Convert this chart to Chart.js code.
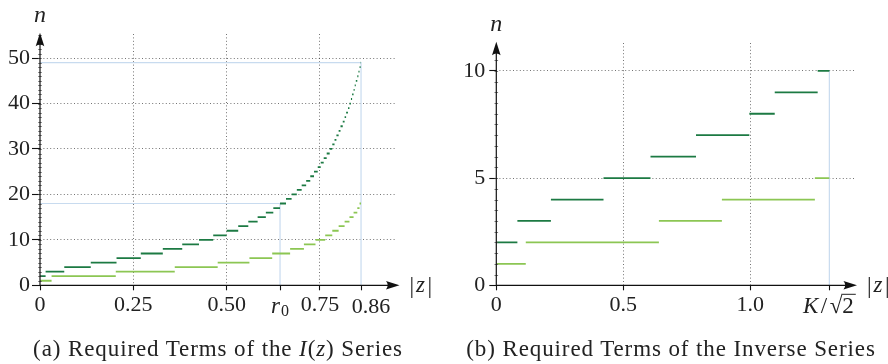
<!DOCTYPE html>
<html><head><meta charset="utf-8">
<script src="https://cdn.jsdelivr.net/npm/chart.js@4.4.1/dist/chart.umd.min.js"></script>
<style>
body{margin:0;background:#fff;width:888px;height:364px;overflow:hidden;position:relative;font-family:'Liberation Serif',serif;}
canvas{position:absolute;top:0;}
#ca{left:0} #cb{left:444px}
.cap{position:absolute;top:336px;line-height:26px;font-size:23px;letter-spacing:0.9px;color:#222;white-space:nowrap;transform:translateX(-50%);}
</style></head><body>
<canvas id="ca" width="444" height="364"></canvas>
<canvas id="cb" width="444" height="364"></canvas>
<div class="cap" style="left:218px">(a) Required Terms of the <i>I</i>(<i>z</i>) Series</div>
<div class="cap" style="left:671px">(b) Required Terms of the Inverse Series</div>
<script>
// ---------- (a) Required terms of the I(z) series ----------
const aDarkN = [2,3,4,5,6,7,8,9,10,11,12,13,14,15,16,17,18,19,20,21,22,23,24,25,26,27,28,29,30,31,32,33,34,35,36,37,38,39,40,41,42,43,44,45,46,47,48,49];
const aDarkFrom = [0,0.015,0.065,0.136,0.205,0.270,0.329,0.381,0.426,0.464,0.500,0.531,0.558,0.583,0.605,0.625,0.643,0.659,0.674,0.688,0.701,0.713,0.724,0.734,0.744,0.752,0.760,0.768,0.776,0.783,0.789,0.794,0.800,0.805,0.811,0.816,0.820,0.825,0.829,0.833,0.836,0.840,0.843,0.846,0.850,0.853,0.856,0.859];
const aLightN = [1,2,3,4,5,6,7,8,9,10,11,12,13,14,15,16,17,18];
const aLightFrom = [0,0.031,0.203,0.361,0.476,0.561,0.622,0.670,0.707,0.738,0.764,0.783,0.800,0.816,0.829,0.840,0.850,0.856];
const aEnd = 0.86;
const r0 = 0.643;
const aGuideZ = [0.86, r0];
const aGuideN = [49, 18];
const aXTicks = [0, 0.25, 0.5, r0, 0.75, 0.86];
const aXLabels = ['0', '0.25', '0.50', '', '0.75', ''];   // r0 and 0.86 labels drawn by the decor plugin
const aXGrid = [0.25, 0.5, 0.75];
const aYTicks = [0, 10, 20, 30, 40, 50];
const aYLabels = ['0', '10', '20', '30', '40', '50'];

// ---------- (b) Required terms of the inverse series ----------
const bDarkN = [2,3,4,5,6,7,8,9,10];
const bDarkFrom = [0,0.083,0.215,0.422,0.607,0.786,0.996,1.096,1.265];
const bLightN = [1,2,3,4,5];
const bLightFrom = [0,0.116,0.640,0.888,1.254];
const bEnd = 1.311;           // K/sqrt(2)
const bGuideN = 10;
const bXTicks = [0, 0.5, 1.0, bEnd];
const bXLabels = ['0', '0.5', '1.0', ''];
const bXGrid = [0.5, 1.0];
const bYTicks = [0, 5, 10];
const bYLabels = ['0', '5', '10'];

const FONT = "'Liberation Serif', 'Times New Roman', serif";
const TXT = '#222';
const GRID = 'rgba(0,0,0,0.55)';
const DARK = '#1c7a43';
const LIGHT = '#8cc653';
const GUIDE = '#c8dbef';
const TICKFONT = 22;

function steps(from, ns, end) {
  const pts = [];
  for (let i = 0; i < ns.length; i++) {
    const a = from[i], b = (i + 1 < from.length) ? from[i + 1] : end;
    pts.push({x: a, y: ns[i]}, {x: b, y: ns[i]});
    if (i < ns.length - 1) pts.push({x: b, y: null});
  }
  return pts;
}
function lineDs(data, color, w) {
  return {data, borderColor: color, borderWidth: w, pointRadius: 0, spanGaps: false,
          tension: 0, fill: false, borderCapStyle: 'butt'};
}

function decor(p) {
  return {
    id: 'decor',
    afterDraw(chart) {
      const {ctx, chartArea: a} = chart;
      const xs = chart.scales.x, ys = chart.scales.y;
      const x0 = xs.getPixelForValue(0), y0 = ys.getPixelForValue(0);
      ctx.save();
      // minor ticks on y axis
      ctx.strokeStyle = '#555'; ctx.lineWidth = 0.8;
      for (let k = 1; k * p.minor < ys.max; k++) {
        const v = k * p.minor;
        const py = Math.round(ys.getPixelForValue(v)) + 0.5;
        ctx.beginPath(); ctx.moveTo(x0 - 1.8, py); ctx.lineTo(x0 + 1.8, py); ctx.stroke();
      }
      // axes with arrows
      const tipY = a.top - 1.2, tipX = a.right + 3;
      ctx.strokeStyle = '#111'; ctx.lineWidth = 1.2;
      ctx.beginPath(); ctx.moveTo(x0, y0); ctx.lineTo(x0, tipY + 8); ctx.stroke();
      ctx.beginPath(); ctx.moveTo(x0, y0); ctx.lineTo(tipX - 8, y0); ctx.stroke();
      ctx.fillStyle = '#111';
      ctx.beginPath(); ctx.moveTo(x0, tipY); ctx.lineTo(x0 - 4.3, tipY + 13.5);
      ctx.quadraticCurveTo(x0, tipY + 10, x0 + 4.3, tipY + 13.5); ctx.closePath(); ctx.fill();
      ctx.beginPath(); ctx.moveTo(tipX, y0); ctx.lineTo(tipX - 13.5, y0 - 4.3);
      ctx.quadraticCurveTo(tipX - 10, y0, tipX - 13.5, y0 + 4.3); ctx.closePath(); ctx.fill();
      // axis titles
      ctx.fillStyle = TXT; ctx.textBaseline = 'alphabetic';
      ctx.font = 'italic 24px ' + FONT; ctx.textAlign = 'center';
      ctx.fillText('n', x0, tipY - 11);
      ctx.textAlign = 'left';
      let sx = tipX + 10; const zb = y0 + 6.7;
      ctx.font = '23px ' + FONT; ctx.fillText('|', sx, zb + 1); sx += ctx.measureText('|').width + 2;
      ctx.font = 'italic 23px ' + FONT; ctx.fillText('z', sx, zb); sx += ctx.measureText('z').width + 2.5;
      ctx.font = '23px ' + FONT; ctx.fillText('|', sx, zb + 1);
      // special tick labels
      const base = a.bottom + 27.5;
      if (p.special === 'r0') {
        ctx.font = 'italic 23px ' + FONT; const wr = ctx.measureText('r').width;
        ctx.font = '16px ' + FONT; const w0 = ctx.measureText('0').width;
        const cx = xs.getPixelForValue(r0); let s = cx - (wr + w0 + 1) / 2;
        ctx.font = 'italic 23px ' + FONT; ctx.fillText('r', s, base);
        ctx.font = '16px ' + FONT; ctx.fillText('0', s + wr + 1, base + 3.5);
        // 0.86 label, shifted right as in the original to clear 0.75
        ctx.font = TICKFONT + 'px ' + FONT; ctx.textAlign = 'center';
        ctx.fillText('0.86', xs.getPixelForValue(aEnd) + 10, base);
        ctx.textAlign = 'left';
      } else if (p.special === 'K') {
        const parts = [['K', 'italic 23px ', 2.5], ['/', '23px ', 2.5], ['\u221A', '23px ', 0], ['2', '23px ', 0]];
        let tot = 0; const ws = [];
        for (const [t, f, g] of parts) { ctx.font = f + FONT; const w = ctx.measureText(t).width; ws.push(w); tot += w + g; }
        tot += 2;
        const cx = xs.getPixelForValue(bEnd); let s = cx - tot / 2;
        for (let i = 0; i < parts.length; i++) {
          ctx.font = parts[i][1] + FONT; ctx.fillText(parts[i][0], s, base);
          if (i === 3) {
            ctx.strokeStyle = TXT; ctx.lineWidth = 1;
            ctx.beginPath(); ctx.moveTo(s - 1, base - 18.5); ctx.lineTo(s + ws[i] + 2, base - 18.5); ctx.stroke();
          }
          s += ws[i] + parts[i][2];
        }
      }
      ctx.restore();
    }
  };
}

function makeChart(id, cfg) {
  new Chart(document.getElementById(id), {
    type: 'line',
    data: {datasets: cfg.datasets},
    options: {
      responsive: false, animation: false, devicePixelRatio: 1,
      layout: {padding: {top: cfg.top, right: cfg.right, left: 0, bottom: 0}},
      plugins: {legend: {display: false}, tooltip: {enabled: false}},
      scales: {
        x: {
          type: 'linear', min: 0, max: cfg.xMax,
          afterBuildTicks: s => { s.ticks = cfg.xTicks.map(v => ({value: v})); },
          afterFit: s => { s.height = 364 - 285.3; },
          ticks: {callback: (v, i) => cfg.xLabels[i], font: {size: TICKFONT, family: FONT}, color: TXT,
                  padding: 2, maxRotation: 0, autoSkip: false},
          grid: {color: c => (c.tick && cfg.xGrid.includes(c.tick.value)) ? GRID : 'rgba(0,0,0,0)',
                 lineWidth: 1, tickColor: '#111', tickLength: 5, tickWidth: 1.1, tickBorderDash: []},
          border: {display: false, dash: [1, 2.4]}
        },
        y: {
          type: 'linear', min: 0, max: cfg.yMax,
          afterBuildTicks: s => { s.ticks = cfg.yTicks.map(v => ({value: v})); },
          afterFit: s => { s.width = cfg.yWidth; },
          ticks: {callback: (v, i) => cfg.yLabels[i], font: {size: TICKFONT, family: FONT}, color: TXT,
                  padding: cfg.yPad, autoSkip: false},
          grid: {color: c => (c.tick && c.tick.value !== 0) ? GRID : 'rgba(0,0,0,0)',
                 lineWidth: 1, tickColor: '#111', tickLength: cfg.yTick, tickWidth: 1.1, tickBorderDash: []},
          border: {display: false, dash: [1, 2.4]}
        }
      }
    },
    plugins: [decor(cfg.decor)]
  });
}

makeChart('ca', {
  datasets: [
    lineDs(steps(aDarkFrom, aDarkN, aEnd), DARK, 1.8),
    lineDs(steps(aLightFrom, aLightN, aEnd), LIGHT, 1.8),
    lineDs([{x: 0, y: aGuideN[0]}, {x: aGuideZ[0], y: aGuideN[0]}, {x: aGuideZ[0], y: 0}], GUIDE, 1.2),
    lineDs([{x: 0, y: aGuideN[1]}, {x: aGuideZ[1], y: aGuideN[1]}, {x: aGuideZ[1], y: 0}], GUIDE, 1.2)
  ],
  top: 34, right: 444 - 396.5, xMax: 0.955, yMax: 55.3, yWidth: 40, yPad: 2, yTick: 8,
  xTicks: aXTicks, xLabels: aXLabels, xGrid: aXGrid, yTicks: aYTicks, yLabels: aYLabels,
  decor: {minor: 1, special: 'r0'}
});

makeChart('cb', {
  datasets: [
    lineDs(steps(bDarkFrom, bDarkN, bEnd), DARK, 1.8),
    lineDs(steps(bLightFrom, bLightN, bEnd), LIGHT, 1.8),
    lineDs([{x: bEnd, y: 0}, {x: bEnd, y: bGuideN}], GUIDE, 1.2)
  ],
  top: 43, right: 444 - 410, xMax: 1.408, yMax: 11.3, yWidth: 52.3, yPad: 4, yTick: 7,
  xTicks: bXTicks, xLabels: bXLabels, xGrid: bXGrid, yTicks: bYTicks, yLabels: bYLabels,
  decor: {minor: 0.5, special: 'K'}
});
</script>
</body></html>
